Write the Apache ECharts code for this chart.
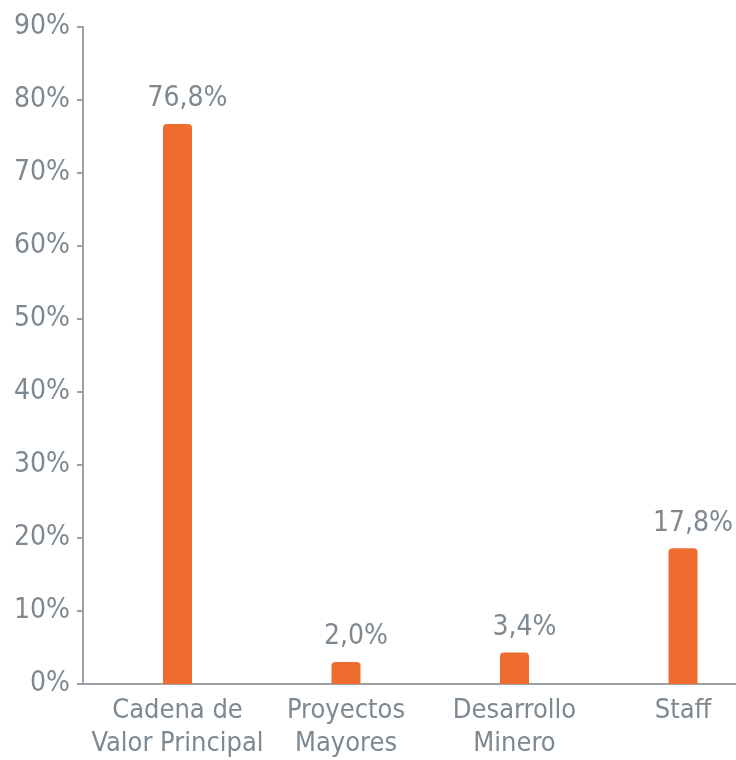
<!DOCTYPE html>
<html>
<head>
<meta charset="utf-8">
<script src="https://cdn.jsdelivr.net/npm/echarts@6/dist/echarts.min.js"></script>
<style>
html,body{margin:0;padding:0;background:#fff;}
#chart{width:736px;height:760px;}
</style>
</head>
<body>
<div id="chart"></div>
<script>
var categories = ['Cadena de\nValor Principal', 'Proyectos\nMayores', 'Desarrollo\nMinero', 'Staff'];
var categoryIndex = [0, 1, 2, 3];
var barHeights = [76.7, 3.0, 4.3, 18.6];
var valueLabels = ['76,8%', '2,0%', '3,4%', '17,8%'];
var yTicks = [0, 10, 20, 30, 40, 50, 60, 70, 80, 90];

var gray = '#7e8891';
var axisGray = '#9aa1a8';
var orange = '#ee6c2e';
var font = '"Liberation Sans Narrow", "DejaVu Sans Condensed", "Liberation Sans", sans-serif';

var chart = echarts.init(document.getElementById('chart'));
chart.setOption({
  animation: false,
  grid: { left: 83, right: 0, top: 27, bottom: 75, containLabel: false },
  xAxis: {
    type: 'value',
    min: -0.5608,
    max: 3.3145,
    axisLine: { show: true, onZero: false, lineStyle: { color: axisGray, width: 2 } },
    axisTick: { show: false },
    splitLine: { show: false },
    axisLabel: {
      customValues: categoryIndex,
      color: gray, fontFamily: font, fontSize: 27, lineHeight: 33, margin: 10,
      showMinLabel: true, showMaxLabel: true, hideOverlap: false,
      formatter: function (v) { return categories[Math.round(v)]; }
    }
  },
  yAxis: {
    type: 'value',
    min: yTicks[0],
    max: yTicks[yTicks.length - 1],
    interval: 10,
    axisLine: { show: true, onZero: false, lineStyle: { color: axisGray, width: 2 } },
    axisTick: { show: true, length: 6, lineStyle: { color: axisGray, width: 2 } },
    splitLine: { show: false },
    axisLabel: { color: gray, fontFamily: font, fontSize: 28, margin: 13, formatter: '{value}%' }
  },
  series: [{
    type: 'bar',
    data: categoryIndex.map(function (i) { return [i, barHeights[i]]; }),
    barWidth: 29,
    itemStyle: { color: orange, borderRadius: [4, 4, 0, 0] },
    label: {
      show: true,
      position: 'top',
      distance: 11,
      offset: [10, 0],
      color: gray,
      fontFamily: font,
      fontSize: 28,
      formatter: function (p) { return valueLabels[p.dataIndex]; }
    }
  }]
});
</script>
</body>
</html>
